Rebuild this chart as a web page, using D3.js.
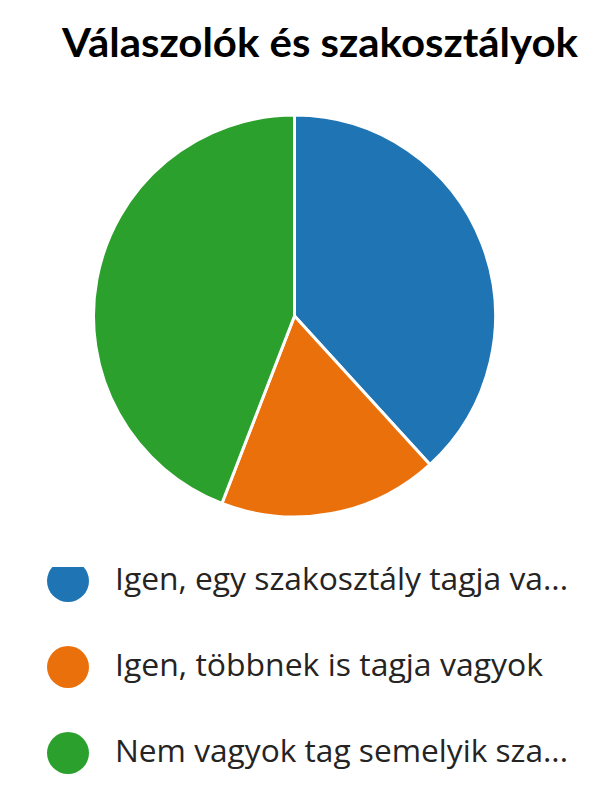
<!DOCTYPE html>
<html><head><meta charset="utf-8">
<script src="https://cdn.jsdelivr.net/npm/d3@7"></script>
<style>html,body{margin:0;padding:0;background:#fff;}</style>
</head><body>
<svg id="c" width="608" height="800"></svg>
<script>
const title = "Válaszolók és szakosztályok";
const categories = ["Igen, egy szakosztály tagja va...", "Igen, többnek is tagja vagyok", "Nem vagyok tag semelyik sza..."];
const values = [13, 6, 15];
const colors = ["#1f74b4", "#ea700c", "#2ca02c"];

const svg = d3.select("#c");
svg.append("text").attr("x", 62).attr("y", 57)
  .attr("font-family", "Lato, 'Open Sans', sans-serif").attr("font-weight", "bold")
  .attr("font-size", 41).attr("fill", "#000")
  .attr("textLength", 516).attr("lengthAdjust", "spacingAndGlyphs")
  .text(title);

const cx = 294.5, cy = 316, r = 201;
const pie = d3.pie().sort(null).value(d => d)(values);
const arc = d3.arc().innerRadius(0).outerRadius(r);
const color = d3.scaleOrdinal().domain(categories).range(colors);
svg.append("g").attr("transform", `translate(${cx},${cy})`)
  .selectAll("path").data(pie).join("path")
  .attr("d", arc).attr("fill", (d, i) => color(categories[i]))
  .attr("stroke", "#fff").attr("stroke-width", 3).attr("stroke-linejoin", "round");

const defs = svg.append("defs");
defs.append("clipPath").attr("id", "lg").append("rect")
  .attr("x", 0).attr("y", 567).attr("width", 608).attr("height", 233);

const ly = d3.scalePoint().domain(categories).range([581, 753]);
const textW = [453, 428, 453];
const lg = svg.append("g").attr("clip-path", "url(#lg)");
const items = lg.selectAll("g").data(categories).join("g");
items.append("circle").attr("cx", 68).attr("cy", d => ly(d)).attr("r", 21)
  .attr("fill", d => color(d));
items.append("text").attr("x", 115).attr("y", d => ly(d) + 9)
  .attr("font-family", "'Open Sans', 'Noto Sans', sans-serif").attr("font-size", 31)
  .attr("fill", "#252423")
  .attr("textLength", (d, i) => textW[i]).attr("lengthAdjust", "spacingAndGlyphs")
  .text(d => d);
</script>
</body></html>
